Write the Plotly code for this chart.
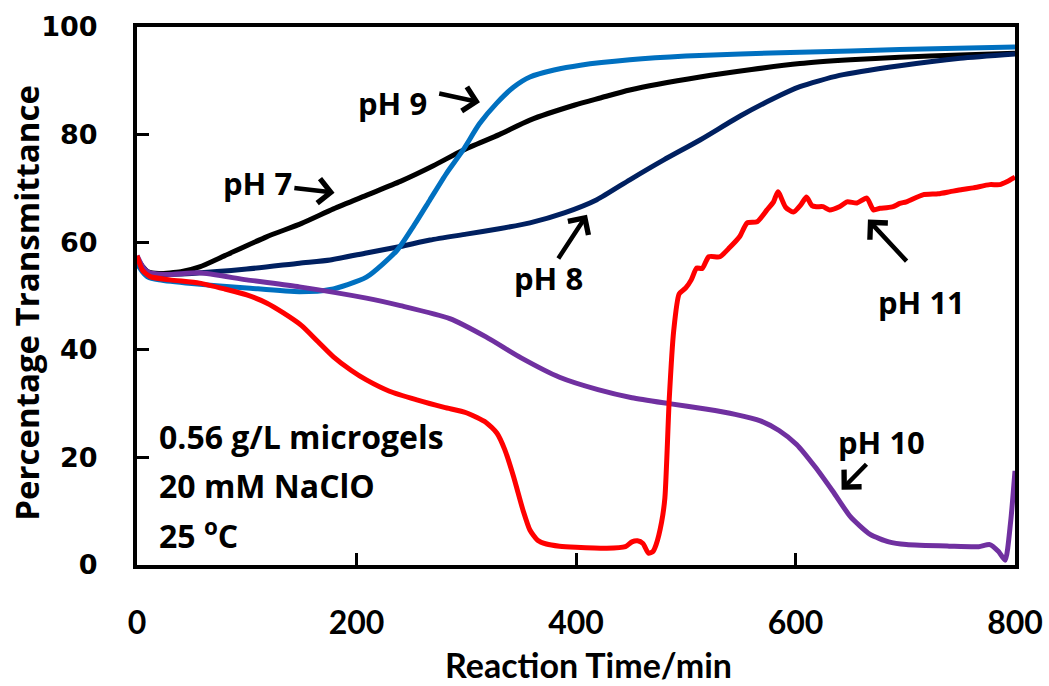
import plotly.graph_objects as go

# ---- data ----
x_ph7 = [0, 5, 10, 20, 40, 57, 80, 118, 150, 179, 210, 240, 270, 297, 330, 358, 399, 422, 449, 513, 560, 604, 650, 695, 750, 800]
y_ph7 = [57, 55.5, 54.5, 54.2, 54.5, 55.4, 57.5, 61, 63.5, 66.2, 68.8, 71.3, 74.2, 77.1, 80, 82.7, 85.5, 86.8, 88.3, 90.7, 92.1, 93.2, 93.9, 94.4, 94.8, 95.1]

x_ph8 = [0, 5, 10, 20, 50, 100, 148, 176, 209, 240, 267, 300, 330, 358, 390, 419, 449, 480, 513, 550, 580, 604, 640, 695, 750, 800]
y_ph8 = [56.5, 55, 54.3, 54, 54.2, 55, 56.1, 56.7, 58, 59.2, 60.4, 61.5, 62.5, 63.6, 65.5, 67.9, 71.6, 75.3, 79, 83.5, 86.7, 88.9, 91, 92.8, 94.2, 95]

x_ph9 = [0, 5, 10, 20, 50, 100, 148, 176, 209, 237, 252, 267, 282, 297, 312, 328, 343, 358, 380, 404, 449, 500, 550, 604, 695, 800]
y_ph9 = [56, 54.5, 53.5, 53, 52.3, 51.5, 50.8, 51.2, 53.5, 58.5, 63, 67.9, 72.8, 77.1, 82, 85.9, 88.8, 90.7, 92, 92.9, 93.9, 94.6, 95, 95.3, 95.8, 96.3]

x_ph10 = [0, 5, 10, 15, 30, 57, 100, 148, 209, 240, 285, 318, 350, 385, 420, 451, 485, 518, 545, 568, 585, 601, 618, 634, 650, 668, 685, 701, 740, 767, 777, 785, 791, 796, 800]
y_ph10 = [57.5, 55.5, 54.5, 54.2, 54, 54.3, 53, 51.7, 49.6, 48.2, 45.8, 42.4, 38.5, 34.9, 32.6, 31.1, 30, 29, 28, 26.8, 25, 22.4, 18.2, 13.7, 9, 5.7, 4.3, 3.8, 3.5, 3.4, 3.8, 2.5, 0.9, 8, 17.5]

x_ph11 = [0, 5, 12, 30, 57, 80, 100, 118, 133, 150, 165, 179, 195, 209, 230, 255, 280, 300, 318, 328, 335, 343, 352, 358, 365, 373, 385, 400, 428, 445, 451, 456, 461, 466, 470, 473, 478, 481, 485, 489, 494, 500, 505, 510, 515, 521, 531, 540, 549, 556, 565, 574, 580, 584, 591, 598, 605, 610, 615, 619, 625, 631, 640, 647, 656, 665, 671, 677, 683, 689, 695, 701, 716, 730, 741, 752, 762, 777, 786, 793, 800]
y_ph11 = [57.5, 54.8, 53.6, 53.0, 52.4, 51.3, 50.2, 48.7, 46.9, 44.5, 41.5, 38.7, 36.2, 34.4, 32.3, 30.7, 29.3, 28.3, 26.5, 24.5, 21.5, 16.5, 10, 6.5, 4.6, 3.9, 3.5, 3.3, 3.1, 3.4, 4.3, 4.5, 4.0, 2.2, 2.5, 3.8, 8, 12.5, 31, 43.5, 50.4, 51.5, 53, 55.2, 55.1, 57.3, 57.3, 59, 61, 63.6, 63.8, 66, 67.5, 69.4, 66.5, 65.6, 67, 68.4, 66.8, 66.6, 66.6, 66, 66.6, 67.5, 67.3, 68.2, 66, 66.3, 66.4, 66.6, 67.2, 67.5, 68.8, 69, 69.4, 69.8, 70.1, 70.7, 70.7, 71.3, 72.1]

series = [
    ("pH 7", x_ph7, y_ph7, "#000000"),
    ("pH 8", x_ph8, y_ph8, "#002060"),
    ("pH 9", x_ph9, y_ph9, "#0070C0"),
    ("pH 10", x_ph10, y_ph10, "#7030A0"),
    ("pH 11", x_ph11, y_ph11, "#FF0000"),
]

x_ticks = [0, 200, 400, 600, 800]
y_ticks = [0, 20, 40, 60, 80, 100]
x_title = "Reaction Time/min"
y_title = "Percentage Transmittance"

# label text position, arrow tail, arrow head (data coords)
labels = [
    ("pH 7", 110, 71.0, (142, 70.1), (180, 69.2)),
    ("pH 9", 233, 85.9, (274, 87.7), (312.5, 86.0)),
    ("pH 8", 374.5, 53.4, (383, 56.7), (410, 65.1)),
    ("pH 11", 715, 48.9, (702.5, 56.2), (666, 64.2)),
    ("pH 10", 678, 22.9, (666, 19.0), (642, 14.0)),
]
conditions = ["0.56 g/L microgels", "20 mM NaClO", "25 <sup>o</sup>C"]
cond_y = [23.8, 14.8, 5.8]

LAB = "Open Sans"
AX = "Lato"
fig = go.Figure()
for name, xs, ys, col in series:
    fig.add_trace(go.Scatter(x=xs, y=ys, mode="lines", name=name,
                             line=dict(color=col, width=5, shape="spline", smoothing=0.6)))

for text, tx, ty, tail, head in labels:
    fig.add_annotation(x=tx, y=ty, text=text, showarrow=False,
                       font=dict(family=LAB, size=31, color="black", weight="bold"))
    fig.add_annotation(x=head[0], y=head[1], ax=tail[0], ay=tail[1],
                       axref="x", ayref="y", text="", showarrow=True,
                       arrowhead=4, arrowsize=1.05, arrowwidth=4.5, arrowcolor="black",
                       standoff=0, startstandoff=0)

for t, yy in zip(conditions, cond_y):
    fig.add_annotation(x=18, y=yy, text=t, showarrow=False, xanchor="left",
                       font=dict(family=LAB, size=32, color="black", weight="bold"))

# axis titles
fig.add_annotation(xref="paper", yref="paper", x=0.514, y=-0.1848, text=x_title,
                   showarrow=False, xanchor="center", yanchor="middle",
                   font=dict(family=AX, size=34, color="black", weight="bold"))
fig.add_annotation(xref="paper", yref="paper", x=-0.1253, y=0.4875, text=y_title,
                   showarrow=False, xanchor="center", yanchor="middle", textangle=-90,
                   font=dict(family=LAB, size=33, color="black", weight="bold"))

fig.update_layout(
    width=1049, height=686,
    margin=dict(l=137, r=34, t=27, b=120.5),
    plot_bgcolor="white", paper_bgcolor="white",
    showlegend=False,
)
fig.update_xaxes(range=[0, 800], tickvals=x_ticks, ticks="inside", ticklen=12, tickwidth=3,
                 tickcolor="black", showline=True, linewidth=4, linecolor="black", mirror=True,
                 showgrid=False, zeroline=False, automargin=False,
                 tickfont=dict(family=AX, size=32, color="black", weight="bold"),
                 ticklabelstandoff=27)
fig.update_yaxes(range=[0, 100], tickvals=y_ticks, ticks="inside", ticklen=12, tickwidth=3,
                 tickcolor="black", showline=True, linewidth=4, linecolor="black", mirror=True,
                 showgrid=False, zeroline=False, automargin=False,
                 tickfont=dict(family="DejaVu Sans", size=27, color="black", weight="bold"),
                 ticklabelstandoff=30)

fig.write_html("out.html")
